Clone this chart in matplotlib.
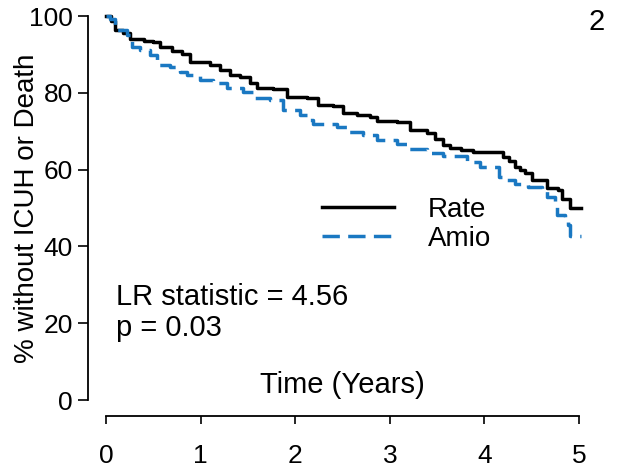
import matplotlib
matplotlib.use('Agg')
import matplotlib.pyplot as plt

# Kaplan-Meier step data (years, % event-free)
rate_t = [0, 0.05, 0.10, 0.18, 0.25, 0.40, 0.50, 0.57, 0.70, 0.80, 0.89, 1.10, 1.20, 1.31,
          1.42, 1.52, 1.60, 1.77, 1.91, 2.12, 2.24, 2.40, 2.51, 2.65, 2.79, 2.86, 3.08, 3.21,
          3.39, 3.48, 3.56, 3.64, 3.75, 3.88, 4.20, 4.26, 4.32, 4.38, 4.43, 4.50, 4.66, 4.78,
          4.82, 4.90, 5.02]
rate_s = [100, 98.8, 96.4, 95.6, 94.0, 93.6, 93.2, 91.8, 91.0, 90.2, 87.9, 87.3, 86.0, 84.7,
          84.0, 82.6, 81.3, 81.0, 79.0, 78.6, 76.8, 76.5, 74.8, 74.2, 73.7, 72.7, 72.5, 70.3,
          69.5, 68.0, 66.5, 65.6, 65.2, 64.7, 63.3, 62.2, 60.7, 59.8, 59.1, 57.3, 55.3, 54.7,
          52.3, 50.0, 50.0]

amio_t = [0, 0.04, 0.10, 0.22, 0.27, 0.36, 0.47, 0.54, 0.68, 0.78, 0.86, 0.99, 1.13, 1.28,
          1.45, 1.55, 1.73, 1.87, 2.05, 2.15, 2.19, 2.44, 2.55, 2.72, 2.86, 3.08, 3.18, 3.39,
          3.56, 3.82, 3.95, 4.15, 4.20, 4.32, 4.46, 4.61, 4.66, 4.75, 4.77, 4.85, 4.88, 4.90,
          5.02]
amio_s = [100, 99.3, 96.4, 95.0, 91.8, 91.1, 89.8, 87.2, 86.7, 85.5, 84.6, 83.3, 82.5, 81.2,
          80.2, 78.6, 78.1, 75.5, 74.2, 72.9, 71.9, 71.1, 69.8, 69.0, 67.7, 66.7, 65.4, 64.3,
          63.5, 62.0, 60.7, 58.0, 57.3, 56.3, 55.5, 54.7, 52.9, 51.6, 48.2, 47.4, 45.6, 42.6,
          42.6]

x_ticks = [0, 1, 2, 3, 4, 5]
y_ticks = [0, 20, 40, 60, 80, 100]

plt.rcParams['font.family'] = ['Liberation Sans', 'DejaVu Sans']

W, H = 621, 474
fig = plt.figure(figsize=(W / 100, H / 100), dpi=100)
ax = fig.add_axes([88 / W, 58 / H, (600 - 88) / W, (416 - 10) / H])

ax.plot(rate_t, rate_s, drawstyle='steps-post', color='black', lw=2.5, label='Rate')
ax.plot(amio_t, amio_s, drawstyle='steps-post', color='#1a78c2', lw=2.5,
        dashes=(5.0, 2.4), label='Amio')

ax.set_xlim(-18 / 94.6, 5 + 21 / 94.6)
ax.set_ylim(-16 / 3.84, 100 + 6 / 3.84)

for s in ['top', 'right']:
    ax.spines[s].set_visible(False)
ax.spines['left'].set_bounds(0, 100)
ax.spines['bottom'].set_bounds(0, 5)
ax.spines['left'].set_linewidth(1.3)
ax.spines['bottom'].set_linewidth(1.3)

ax.set_xticks(x_ticks)
ax.set_yticks(y_ticks)
ax.tick_params(axis='y', length=7, width=1.2, pad=4, labelsize=19)
ax.tick_params(axis='x', length=6, width=1.2, pad=14, labelsize=19)

fig.text(27 / W, 1 - 208 / H, '% without ICUH or Death', rotation=90,
         ha='center', va='center', fontsize=20)
ax.text(2.5, 4, 'Time (Years)', ha='center', va='center', fontsize=21)
ax.text(0.106, 26.8, 'LR statistic = 4.56', ha='left', va='center', fontsize=21)
ax.text(0.106, 18.7, 'p = 0.03', ha='left', va='center', fontsize=21)
fig.text(597 / W, 1 - 22 / H, '2', ha='center', va='center', fontsize=21)

ax.legend(loc='upper left', bbox_to_anchor=(322 / W, 1 - 197 / H),
          bbox_transform=fig.transFigure, frameon=False, fontsize=20,
          handlelength=2.6, handletextpad=1.2, labelspacing=0.1,
          borderpad=0, borderaxespad=0)

fig.savefig('out.png', dpi=100)
